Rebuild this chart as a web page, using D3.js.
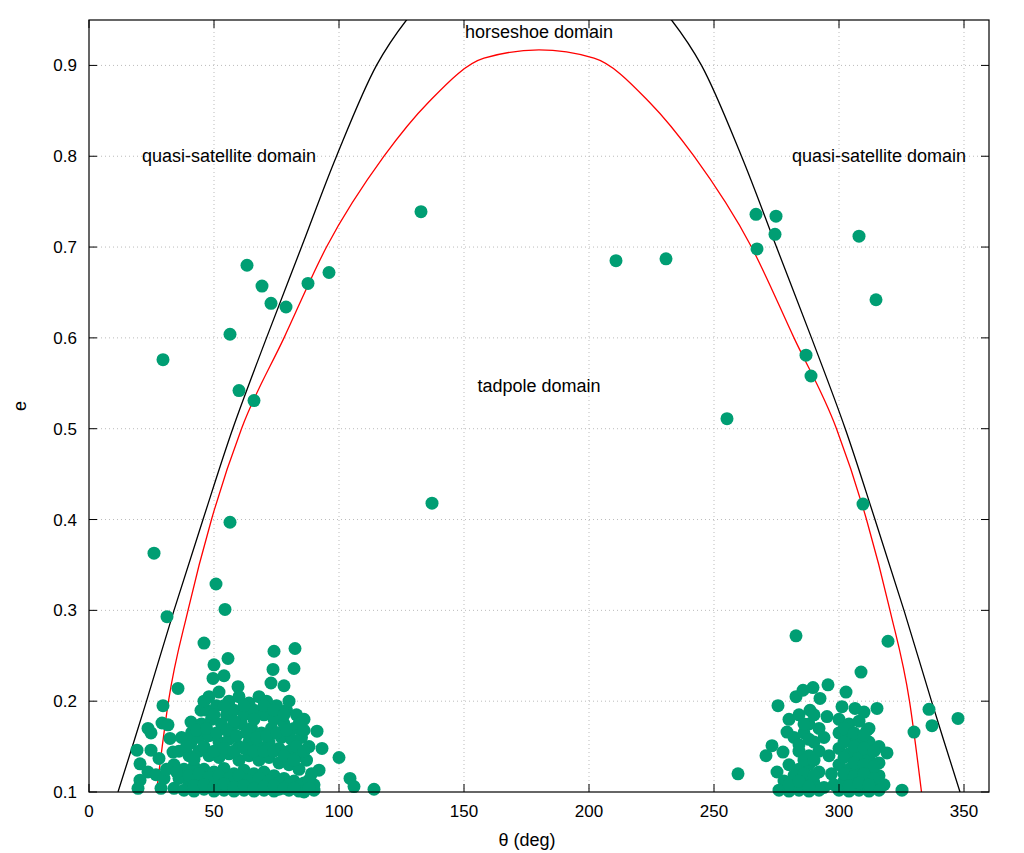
<!DOCTYPE html>
<html><head><meta charset="utf-8">
<script src="https://cdn.jsdelivr.net/npm/d3@7"></script>
<style>body{margin:0;background:#fff}text{font-family:"Liberation Sans",Arial,sans-serif}</style>
</head><body><svg id="c" width="1024" height="853"></svg>
<script>
const xTicks=[0,50,100,150,200,250,300,350];
const yTicks=[0.1,0.2,0.3,0.4,0.5,0.6,0.7,0.8,0.9];
// black boundary (left half, mirrored about 180)
const blackHalf=[[11.6,0.1],[23,0.2],[34,0.3],[45.6,0.4],[57.5,0.5],[71,0.6],[85,0.7],[99,0.8],[115,0.9],[127,0.95],[140,0.99],[155,1.02],[180,1.04]];
// red boundary (left half, mirrored about 180)
const redHalf=[[27,0.1],[31.8,0.2],[39.6,0.3],[49,0.4],[61,0.5],[78,0.6],[95,0.7],[118,0.8],[136,0.86],[158,0.908],[180,0.917]];
const outliers=[[29.6,0.576],[26,0.363],[31.2,0.293],[35.6,0.214],[50.8,0.329],[54.4,0.301],[56.4,0.397],[56.4,0.604],[60,0.542],[66,0.531],[63.2,0.68],[69.2,0.657],[72.8,0.638],[78.8,0.634],[87.6,0.66],[96,0.672],[132.8,0.739],[137.2,0.418],[210.8,0.685],[230.8,0.687],[255.2,0.511],[266.8,0.736],[274.8,0.734],[267.2,0.698],[274.4,0.714],[308,0.712],[314.8,0.642],[286.8,0.581],[288.8,0.558],[309.6,0.417],[319.6,0.266],[282.8,0.272],[308.8,0.232],[336,0.191],[337.2,0.173],[347.6,0.181],[330,0.166],[259.6,0.12],[325.2,0.102],[46,0.264],[29.6,0.195]];
const leftCluster=[[100,0.138],[104.4,0.115],[106,0.106],[114,0.103],[93.2,0.148],[91.2,0.167],[92,0.124],[82.4,0.258],[74,0.255],[73.6,0.235],[82,0.236],[78,0.217],[72.8,0.22],
[19.2,0.146],[20.4,0.131],[20.4,0.113],[19.6,0.104],[23.6,0.17],[24.8,0.165],[29.2,0.176],[31.6,0.174],[32.4,0.159],[24.8,0.146],[28,0.137],[33.6,0.144],[23.6,0.122],[26.8,0.119],[28.8,0.104],[34,0.104],[40.8,0.177],[44.8,0.19],[40.8,0.154],[50,0.24],[55.6,0.247],[49.6,0.225],[54,0.228],[59.6,0.216],
[48,0.205],[52,0.21],[56,0.2],[60,0.205],[64,0.198],[68,0.205],[71,0.2],[75,0.195],[79,0.19],[83,0.185],[86,0.18],[47,0.19],[51,0.195],[55,0.185],[58,0.19],[62,0.185],[66,0.19],[70,0.185],[74,0.18],[78,0.175],[82,0.17],[45,0.175],[49,0.18],[53,0.175],[57,0.17],[61,0.175],[65,0.17],[69,0.165],[73,0.17],[77,0.16],[81,0.158],[85,0.16],[88,0.15],
[37,0.16],[41,0.165],[44,0.16],[48,0.162],[52,0.155],[56,0.158],[60,0.15],[64,0.155],[68,0.15],[72,0.155],[76,0.148],[80,0.145],[84,0.14],[87,0.135],[36,0.145],[40,0.14],[44,0.145],[48,0.14],[52,0.138],[56,0.142],[60,0.135],[64,0.14],[68,0.135],[72,0.138],[76,0.132],[80,0.13],[84,0.125],[89,0.12],
[34,0.13],[38,0.125],[42,0.128],[46,0.125],[50,0.122],[54,0.126],[58,0.12],[62,0.124],[66,0.12],[70,0.122],[74,0.118],[78,0.115],[82,0.112],[86,0.11],[90,0.108],[36,0.115],[40,0.11],[44,0.112],[48,0.108],[52,0.112],[56,0.106],[60,0.11],[64,0.105],[68,0.108],[72,0.104],[76,0.103],[80,0.102],[84,0.101],[38,0.102],[42,0.101],[46,0.103],[50,0.101],[54,0.102],[58,0.101],[62,0.102],[66,0.101],[70,0.102],[74,0.101],[30,0.115],[31,0.125],[86,0.1],[90,0.102],
[46,0.2],[50,0.185],[54,0.195],[58,0.178],[62,0.195],[66,0.18],[70,0.195],[74,0.19],[78,0.185],[80,0.2],[84,0.175],[43,0.168],[47,0.17],[51,0.165],[55,0.168],[59,0.162],[63,0.165],[67,0.16],[71,0.162],[75,0.165],[79,0.168],[83,0.15],[86,0.168],
[39,0.15],[42,0.136],[46,0.15],[50,0.145],[54,0.148],[58,0.145],[62,0.148],[66,0.145],[70,0.145],[74,0.145],[78,0.14],[82,0.135],[86,0.145],
[35,0.122],[40,0.118],[44,0.12],[48,0.116],[52,0.118],[56,0.115],[60,0.118],[64,0.113],[68,0.115],[72,0.112],[76,0.11],[80,0.108],[84,0.106],[88,0.113],[42,0.107],[46,0.108],[50,0.106],[54,0.109],[58,0.105],[62,0.107],[66,0.104],[70,0.106],[74,0.107],[78,0.104],[82,0.104],[88,0.104]];
const rightCluster=[[275.6,0.195],[282.8,0.205],[285.6,0.212],[289.6,0.215],[295.6,0.218],[302.8,0.21],[292.4,0.203],[315.2,0.192],[310,0.188],[301.2,0.194],[306.4,0.192],[279.2,0.166],[273.2,0.151],[270.8,0.14],[277.6,0.144],[275.2,0.122],[319.2,0.143],[311.2,0.168],[288.4,0.19],[295.2,0.183],
[280,0.18],[284,0.185],[288,0.175],[292,0.17],[282,0.16],[286,0.165],[290,0.155],[294,0.16],[284,0.145],[288,0.14],[292,0.145],[280,0.13],[284,0.125],[288,0.13],[292,0.122],[278,0.112],[282,0.108],[286,0.115],[290,0.11],[294,0.105],[276,0.102],[280,0.101],[284,0.102],[288,0.101],[292,0.102],
[300,0.18],[304,0.175],[308,0.178],[312,0.17],[300,0.165],[304,0.16],[308,0.158],[312,0.155],[316,0.15],[300,0.148],[304,0.142],[308,0.14],[312,0.138],[316,0.132],[300,0.13],[304,0.125],[308,0.122],[312,0.12],[316,0.118],[302,0.112],[306,0.108],[310,0.11],[314,0.105],[318,0.108],[300,0.102],[304,0.101],[308,0.102],[312,0.101],[316,0.102],[297,0.12],[296,0.14],
[286,0.175],[290,0.185],[284,0.152],[288,0.158],[286,0.135],[290,0.135],[282,0.118],[286,0.12],[290,0.118],[280,0.108],[284,0.112],[288,0.106],[302,0.17],[306,0.165],[310,0.163],[302,0.155],[306,0.15],[310,0.148],[314,0.145],[302,0.138],[306,0.132],[310,0.13],[314,0.128],[302,0.12],[306,0.117],[310,0.12],[314,0.115],[298,0.108],[304,0.107],[308,0.11],[312,0.108]];

const m={l:89,r:989,t:20,b:792};
const svg=d3.select("#c");
const x=d3.scaleLinear().domain([0,360]).range([m.l,m.r]);
const y=d3.scaleLinear().domain([0.1,0.95]).range([m.b,m.t]);
const g=svg.append("g");
g.selectAll(".gx").data(xTicks.filter(t=>t>0)).enter().append("line").attr("x1",d=>x(d)).attr("x2",d=>x(d)).attr("y1",m.t).attr("y2",m.b).attr("stroke","#bbb").attr("stroke-dasharray","1,3");
g.selectAll(".gy").data(yTicks.filter(t=>t>0.1)).enter().append("line").attr("y1",d=>y(d)).attr("y2",d=>y(d)).attr("x1",m.l).attr("x2",m.r).attr("stroke","#bbb").attr("stroke-dasharray","1,3");
svg.append("clipPath").attr("id","cp").append("rect").attr("x",m.l).attr("y",m.t).attr("width",m.r-m.l).attr("height",m.b-m.t);
const mirror=a=>a.concat(a.slice().reverse().filter(p=>p[0]!==180).map(p=>[360-p[0],p[1]]));
const line=d3.line().x(d=>x(d[0])).y(d=>y(d[1])).curve(d3.curveMonotoneX);
const pg=svg.append("g").attr("clip-path","url(#cp)");
pg.append("path").attr("d",d3.line().x(d=>x(d[0])).y(d=>y(d[1])).curve(d3.curveCatmullRom.alpha(0.5))(mirror(blackHalf))).attr("fill","none").attr("stroke","#000").attr("stroke-width",1.3);
pg.append("path").attr("d",line(mirror(redHalf))).attr("fill","none").attr("stroke","#f00").attr("stroke-width",1.3);
const pts=outliers.concat(leftCluster,rightCluster);
svg.append("g").selectAll("circle").data(pts).enter().append("circle").attr("cx",d=>x(d[0])).attr("cy",d=>y(d[1])).attr("r",6.5).attr("fill","#009e73");
svg.append("rect").attr("x",m.l).attr("y",m.t).attr("width",m.r-m.l).attr("height",m.b-m.t).attr("fill","none").attr("stroke","#000").attr("stroke-width",1.2);
const tk=svg.append("g").attr("stroke","#000");
xTicks.forEach(t=>{tk.append("line").attr("x1",x(t)).attr("x2",x(t)).attr("y1",m.b).attr("y2",m.b-8);tk.append("line").attr("x1",x(t)).attr("x2",x(t)).attr("y1",m.t).attr("y2",m.t+8);});
yTicks.forEach(t=>{tk.append("line").attr("y1",y(t)).attr("y2",y(t)).attr("x1",m.l).attr("x2",m.l+8);tk.append("line").attr("y1",y(t)).attr("y2",y(t)).attr("x1",m.r).attr("x2",m.r-8);});
svg.append("g").selectAll("text").data(xTicks).enter().append("text").attr("x",d=>x(d)).attr("y",m.b+25).attr("text-anchor","middle").attr("font-size",17).text(d=>d);
svg.append("g").selectAll("text").data(yTicks).enter().append("text").attr("x",m.l-12).attr("y",d=>y(d)+6).attr("text-anchor","end").attr("font-size",17).text(d=>d.toFixed(1));
svg.append("text").attr("x",527).attr("y",846).attr("text-anchor","middle").attr("font-size",18).text("θ (deg)");
svg.append("text").attr("transform","translate(26,406) rotate(-90)").attr("text-anchor","middle").attr("font-size",18).text("e");
const lab=(t,a,b)=>svg.append("text").attr("x",x(a)).attr("y",y(b)).attr("text-anchor","middle").attr("font-size",18).text(t);
lab("horseshoe domain",180,0.93);
lab("quasi-satellite domain",56,0.794);
lab("quasi-satellite domain",316,0.794);
lab("tadpole domain",180,0.54);
</script></body></html>
